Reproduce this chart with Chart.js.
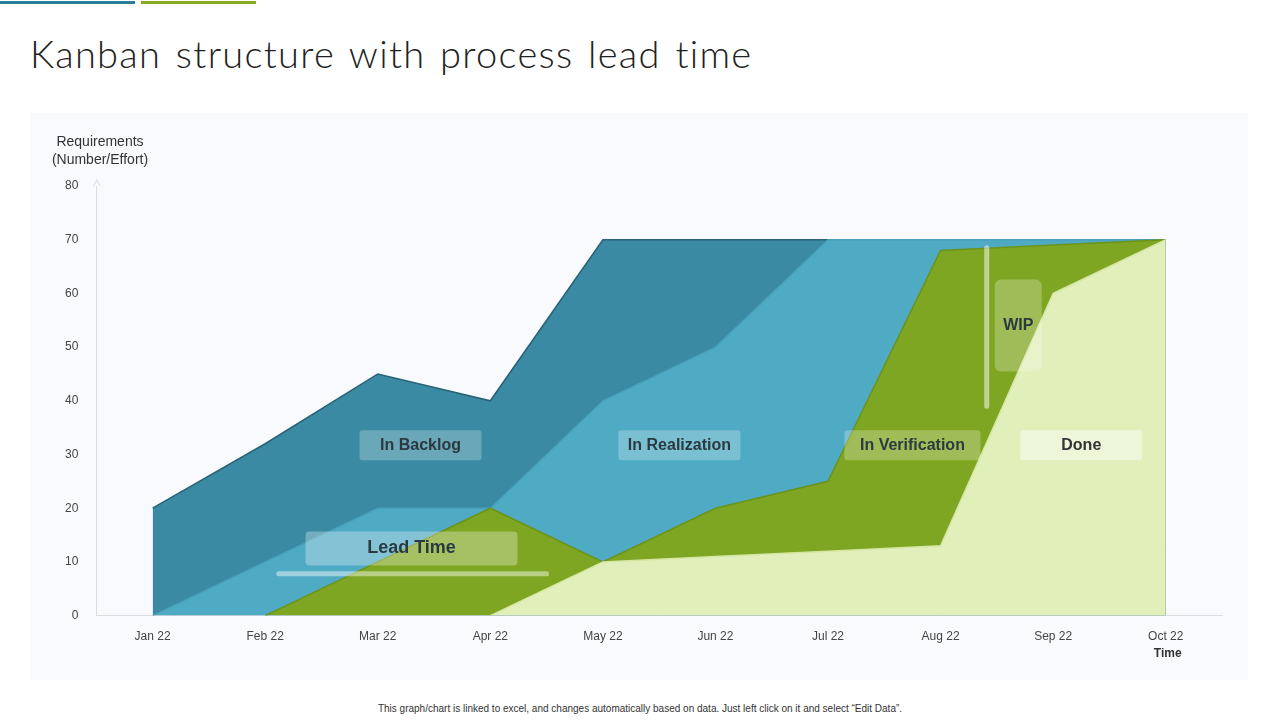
<!DOCTYPE html>
<html><head><meta charset="utf-8">
<script src="https://cdn.jsdelivr.net/npm/chart.js@4.4.1/dist/chart.umd.min.js"></script>
<style>
body{margin:0;width:1280px;height:720px;background:#fff;font-family:Arial,"Liberation Sans",sans-serif;position:relative;overflow:hidden}
#t{position:absolute;left:30px;top:30px;font-family:Lato,sans-serif;font-weight:300;font-size:38px;color:#222;letter-spacing:1.3px;word-spacing:3px}
#card{position:absolute;left:30px;top:113px;width:1218px;height:567px;background:#f8fafd}
#foot{position:absolute;left:0;width:1280px;top:703px;text-align:center;font-size:10px;color:#333}
.l1{position:absolute;left:0;top:1px;width:135px;height:3px;background:#2a7f98}
.l2{position:absolute;left:141px;top:1px;width:115px;height:3px;background:#8aaa1e}
</style></head><body>
<div class="l1"></div><div class="l2"></div>
<div id="t">Kanban structure with process lead time</div>
<div id="card"><canvas id="c" width="1218" height="567"></canvas></div>
<div id="foot">This graph/chart is linked to excel, and changes automatically based on data. Just left click on it and select “Edit Data”.</div>
<script>
const months=["Jan 22","Feb 22","Mar 22","Apr 22","May 22","Jun 22","Jul 22","Aug 22","Sep 22","Oct 22"];
const backlog=[20,32,45,40,70,70,70,70,70,70];
const realization=[0,10,20,20,40,50,70,70,70,70];
const verification=[null,0,10,20,10,20,25,68,69,70];
const done=[null,null,null,0,10,11,12,13,60,70];
const yTicks=[0,10,20,30,40,50,60,70,80];
const labels=[
 {t:"In Backlog",x:2.38,y:31.7,w:122,bg:"rgba(255,255,255,0.25)",c:"#2b3a40"},
 {t:"In Realization",x:4.68,y:31.7,w:122,bg:"rgba(255,255,255,0.25)",c:"#2b3a40"},
 {t:"In Verification",x:6.75,y:31.7,w:136,bg:"rgba(255,255,255,0.25)",c:"#2b3a40"},
 {t:"Done",x:8.25,y:31.7,w:122,bg:"rgba(255,255,255,0.45)",c:"#333"}
];
const ds=(d,bg,bc)=>({data:d,backgroundColor:bg,borderColor:bc,borderWidth:1.5,fill:'origin',pointRadius:0,tension:0});
const deco={id:'deco',afterDatasetsDraw(ch){
 const c=ch.ctx,x=ch.scales.x,y=ch.scales.y;
 c.save();c.textAlign='center';c.textBaseline='middle';
 const rr=(cx,cy,w,h,r,f)=>{c.beginPath();c.roundRect(cx-w/2,cy-h/2,w,h,r);c.fillStyle=f;c.fill();};
 labels.forEach(l=>{const px=x.getPixelForValue(l.x),py=y.getPixelForValue(l.y);rr(px,py,l.w,30,3,l.bg);c.fillStyle=l.c;c.font='bold 16px Arial';c.fillText(l.t,px,py);});
 let px=x.getPixelForValue(2.3),py=y.getPixelForValue(12.5);
 rr(px,py,212,34,4,'rgba(255,255,255,0.3)');c.fillStyle='#2b3a40';c.font='bold 18px Arial';c.fillText('Lead Time',px,py);
 c.strokeStyle='rgba(255,255,255,0.45)';c.lineWidth=5;c.lineCap='round';c.beginPath();
 c.moveTo(x.getPixelForValue(1.12),y.getPixelForValue(7.8));c.lineTo(x.getPixelForValue(3.5),y.getPixelForValue(7.8));c.stroke();
 px=x.getPixelForValue(7.69);py=y.getPixelForValue(54);
 rr(px,py,47,92,6,'rgba(255,255,255,0.25)');c.fillStyle='#2b3a40';c.font='bold 16px Arial';c.fillText('WIP',px,py);
 c.strokeStyle='rgba(255,255,255,0.5)';c.lineWidth=5;c.beginPath();
 const vx=x.getPixelForValue(7.41);c.moveTo(vx,y.getPixelForValue(68.5));c.lineTo(vx,y.getPixelForValue(39));c.stroke();
 c.fillStyle='#333';c.font='14px Arial';c.fillText('Requirements',70,29);c.fillText('(Number/Effort)',70,47);
 c.font='bold 12px Arial';c.fillText('Time',x.getPixelForValue(9)+2,541);
 c.strokeStyle='#d8dde2';c.lineWidth=1;c.beginPath();c.moveTo(ch.chartArea.left+0.5,ch.chartArea.top-6);c.lineTo(ch.chartArea.left-3,ch.chartArea.top);c.moveTo(ch.chartArea.left+0.5,ch.chartArea.top-6);c.lineTo(ch.chartArea.left+4,ch.chartArea.top);c.stroke();
 c.restore();}};
new Chart(document.getElementById('c'),{type:'line',
 data:{labels:months,datasets:[
  ds(done,'#e1efbb','#d4e7a2'),
  ds(verification,'#7fa622','#6c931a'),
  ds(realization,'#4faac4','#4a9fb8'),
  ds(backlog,'#398aa2','#2a6276')]},
 options:{responsive:false,animation:false,
  layout:{padding:{left:25,top:73,right:26,bottom:30}},
  plugins:{legend:{display:false},tooltip:{enabled:false}},
  scales:{
   x:{offset:true,grid:{display:false},border:{color:'#d8dde2'},ticks:{color:'#444',font:{size:12,family:'Arial'},padding:6}},
   y:{min:0,max:80,grid:{display:false},border:{color:'#d8dde2'},
      afterBuildTicks(s){s.ticks=yTicks.map(v=>({value:v}));},
      ticks:{color:'#444',font:{size:12,family:'Arial'},padding:10}}}},
 plugins:[deco]});
</script></body></html>
